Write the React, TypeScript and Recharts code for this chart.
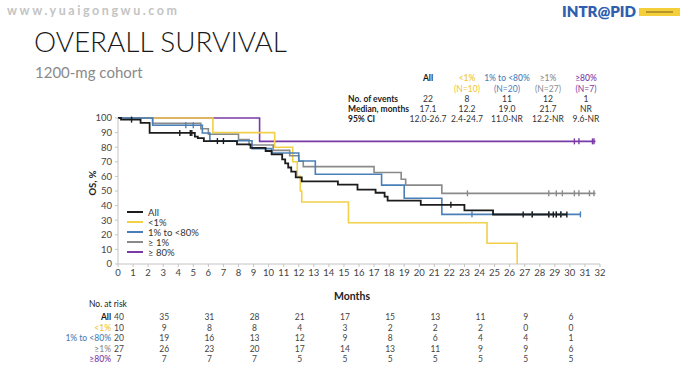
import React from 'react';
import { LineChart, Line, XAxis, YAxis } from 'recharts';

// axis ticks
const monthTicks = [0, 1, 2, 3, 4, 5, 6, 7, 8, 9, 10, 11, 12, 13, 14, 15, 16, 17, 18, 19, 20, 21, 22, 23, 24, 25, 26, 27, 28, 29, 30, 31, 32];
const osTicks = [0, 10, 20, 30, 40, 50, 60, 70, 80, 90, 100];

// KM steps: [month, OS %]
const allSteps: [number, number][] = [
  [0, 100], [0.2, 98.9], [1.5, 96.6], [2.1, 89.8], [5.1, 87.3], [5.3, 86.2], [5.7, 84.2],
  [7.9, 81.9], [8.8, 79.6], [9.8, 77.4], [10.2, 75.1], [10.9, 71.7], [11.1, 68.9], [11.3, 66.1],
  [11.5, 63.3], [11.8, 59.3], [12.2, 56.6], [14.6, 54.3], [15.9, 51], [17.1, 48.8], [17.7, 46.2],
  [17.9, 43.4], [20.1, 40.5], [23, 36.7], [24.9, 33.9],
];
const allCensored = [0.9, 4.1, 4.8, 4.9, 6.6, 7.0, 22.1, 26.9, 27.5, 28.6, 28.9, 29.1, 29.4, 29.8];
const allEnd = 29.8;

const lt1Steps: [number, number][] = [
  [0, 100], [6.3, 90], [10.4, 80], [11.6, 70], [11.9, 60], [12.1, 50], [12.2, 42.5],
  [15.3, 28.3], [24.5, 14.2], [26.5, 0],
];
const lt1Censored: number[] = [];
const lt1End = 26.5;

const midSteps: [number, number][] = [
  [0, 100], [2.3, 95], [5.6, 89.7], [6.1, 84.4], [8.9, 79], [10.2, 76], [12.0, 70.5],
  [13.1, 61.5], [17.5, 54], [19.0, 45], [21.5, 34],
];
const midCensored = [4.5, 5.0, 23.5, 27.5, 28.6, 29.1, 29.4, 30.7];
const midEnd = 30.7;

const ge1Steps: [number, number][] = [
  [0, 100], [2.3, 96.3], [5.5, 92.6], [6.0, 88.9], [8.0, 85.2], [8.7, 81.5], [10.3, 77.8],
  [11.4, 74.1], [12.0, 70.4], [12.3, 66.7], [17.0, 62.7], [18.8, 58], [19.1, 54], [21.5, 48.4],
];
const ge1Censored = [23.2, 28.6, 29.1, 29.5, 30.3, 30.6, 31.3, 31.6];
const ge1End = 31.7;

const ge80Steps: [number, number][] = [[0, 100], [9.4, 84]];
const ge80Censored = [30.3, 30.6, 31.5, 31.6];
const ge80End = 31.7;

// summary table
const groupLabels = ['All', '<1%', '1% to <80%', '≥1%', '≥80%'];
const groupNs = ['', '(N=10)', '(N=20)', '(N=27)', '(N=7)'];
const eventCounts = ['22', '8', '11', '12', '1'];
const medianMonths = ['17.1', '12.2', '19.0', '21.7', 'NR'];
const ciLabels = ['12.0-26.7', '2.4-24.7', '11.0-NR', '12.2-NR', '9.6-NR'];

// number at risk
const riskMonths = [0, 3, 6, 9, 12, 15, 18, 21, 24, 27, 30];
const riskAll = [40, 35, 31, 28, 21, 17, 15, 13, 11, 9, 6];
const riskLt1 = [10, 9, 8, 8, 4, 3, 2, 2, 2, 0, 0];
const riskMid = [20, 19, 16, 13, 12, 9, 8, 6, 4, 4, 1];
const riskGe1 = [27, 26, 23, 20, 17, 14, 13, 11, 9, 9, 6];
const riskGe80 = [7, 7, 7, 7, 5, 5, 5, 5, 5, 5, 5];
const riskLabels = ['All', '<1%', '1% to <80%', '≥1%', '≥80%'];

const C_ALL = '#1c1c1c';
const C_LT1 = '#f2d048';
const C_LT1_TXT = '#efc52a';
const C_MID = '#4a80b8';
const C_GE1 = '#8a8a8a';
const C_GE80 = '#7a3aa6';
const groupColors = [C_ALL, C_LT1_TXT, C_MID, C_GE1, C_GE80];

const FONT = 'Lato, "Open Sans", sans-serif';

// chart frame
const W = 692;
const H = 370;
const PLOT_L = 118;
const PLOT_R = 600;
const PLOT_T = 118;
const PLOT_B = 264;
const xPx = (m: number) => PLOT_L + (m / 32) * (PLOT_R - PLOT_L);

type Pt = { x: number; y: number; c?: boolean };

function levelAt(steps: [number, number][], m: number) {
  let v = steps[0][1];
  for (const [x, y] of steps) if (x <= m) v = y;
  return v;
}

function buildSeries(steps: [number, number][], censored: number[], end: number): Pt[] {
  const pts: Pt[] = steps.map(([x, y]) => ({ x, y }));
  censored.forEach((m) => pts.push({ x: m, y: levelAt(steps, m), c: true }));
  const lastX = steps[steps.length - 1][0];
  if (end > lastX && !censored.includes(end)) pts.push({ x: end, y: levelAt(steps, end) });
  return pts.sort((a, b) => a.x - b.x);
}

const series = [
  { key: 'ge80', data: buildSeries(ge80Steps, ge80Censored, ge80End), color: C_GE80, w: 1.6 },
  { key: 'lt1', data: buildSeries(lt1Steps, lt1Censored, lt1End), color: C_LT1, w: 1.6 },
  { key: 'ge1', data: buildSeries(ge1Steps, ge1Censored, ge1End), color: C_GE1, w: 1.6 },
  { key: 'mid', data: buildSeries(midSteps, midCensored, midEnd), color: C_MID, w: 1.6 },
  { key: 'all', data: buildSeries(allSteps, allCensored, allEnd), color: C_ALL, w: 1.8 },
];

const CensorDot = (color: string) => (props: any) => {
  const { cx, cy, payload, index } = props;
  if (!payload || !payload.c) return <g key={index} />;
  return <line key={index} x1={cx} x2={cx} y1={cy - 3} y2={cy + 3} stroke={color} strokeWidth={1.4} />;
};

const legendItems = [
  { label: 'All', color: C_ALL },
  { label: '<1%', color: C_LT1 },
  { label: '1% to <80%', color: C_MID },
  { label: '≥ 1%', color: C_GE1 },
  { label: '≥ 80%', color: C_GE80 },
];

const tableCols = [428, 467, 507, 548, 586];
const riskRowsY = [317, 327.5, 338, 348.5, 359];
const riskRows = [riskAll, riskLt1, riskMid, riskGe1, riskGe80];

const Overlay = () => (
  <svg width={W} height={H} style={{ position: 'absolute', left: 0, top: 0, pointerEvents: 'none' }} fontFamily={FONT}>
    <text x={7} y={15} fontSize={12.5} fontWeight={700} fill="#c4c4c4" textLength={170} lengthAdjust="spacing">www.yuaigongwu.com</text>
    <text x={562} y={17} fontSize={14.5} fontWeight={800} fill="#2f5fae" textLength={74} lengthAdjust="spacingAndGlyphs">INTR@PID</text>
    <rect x={639} y={8} width={41} height={8} fill="#f4cf3a" />
    <rect x={646} y={11} width={27} height={2} fill="#8a7020" opacity={0.6} />

    <text x={34} y={52} fontSize={28} fontWeight={300} fill="#1a1a1a" textLength={253} lengthAdjust="spacingAndGlyphs">OVERALL SURVIVAL</text>
    <text x={35} y={78} fontSize={15} fill="#8a8a8a">1200-mg cohort</text>

    {groupLabels.map((g, i) => (
      <text key={g} x={tableCols[i]} y={78} fontSize={8.5} fontWeight={i === 0 ? 700 : 500} fill={groupColors[i]} textAnchor="middle" dominantBaseline="central">{g}</text>
    ))}
    {groupNs.map((n, i) => (
      <text key={'n' + i} x={tableCols[i]} y={89} fontSize={8.5} fill={groupColors[i]} textAnchor="middle" dominantBaseline="central">{n}</text>
    ))}
    <text x={348} y={99} fontSize={8.5} fontWeight={700} fill="#222" dominantBaseline="central">No. of events</text>
    <text x={348} y={109} fontSize={8.5} fontWeight={700} fill="#222" dominantBaseline="central">Median, months</text>
    <text x={348} y={119} fontSize={8.5} fontWeight={700} fill="#222" dominantBaseline="central">95% CI</text>
    {[eventCounts, medianMonths, ciLabels].map((row, r) =>
      row.map((v, i) => (
        <text key={r + '-' + i} x={tableCols[i]} y={99 + r * 10} fontSize={8.5} fill="#333" textAnchor="middle" dominantBaseline="central">{v}</text>
      ))
    )}

    <text x={92} y={183} fontSize={9.5} fontWeight={700} fill="#222" textAnchor="middle" dominantBaseline="central" transform="rotate(-90 92 183)">OS, %</text>

    {legendItems.map((it, i) => (
      <g key={it.label}>
        <line x1={127} x2={143} y1={212 + i * 10} y2={212 + i * 10} stroke={it.color} strokeWidth={2} />
        <text x={148} y={212 + i * 10} fontSize={9.5} fill="#333" dominantBaseline="central">{it.label}</text>
      </g>
    ))}

    <text x={352} y={296} fontSize={10.5} fontWeight={700} fill="#222" textAnchor="middle" dominantBaseline="central">Months</text>
    <text x={89} y={304} fontSize={8.5} fill="#222" dominantBaseline="central">No. at risk</text>
    {riskLabels.map((l, r) => (
      <text key={l} x={111} y={riskRowsY[r]} fontSize={8.5} fontWeight={r === 0 ? 700 : 500} fill={groupColors[r]} textAnchor="end" dominantBaseline="central">{l}</text>
    ))}
    {riskRows.map((row, r) =>
      row.map((v, i) => (
        <text key={r + '_' + i} x={xPx(riskMonths[i]) + 1} y={riskRowsY[r]} fontSize={8.5} fill="#444" textAnchor="middle" dominantBaseline="central">{v}</text>
      ))
    )}
  </svg>
);

export default function App() {
  return (
    <div style={{ position: 'absolute', left: 0, top: 0, width: W, height: H, background: '#fff', overflow: 'hidden' }}>
      <LineChart width={W} height={H} margin={{ top: PLOT_T, left: PLOT_L - 30, right: W - PLOT_R, bottom: H - PLOT_B - 20 }}>
        <XAxis
          dataKey="x"
          type="number"
          domain={[0, 32]}
          ticks={monthTicks}
          interval={0}
          height={20}
          tickSize={3}
          tickMargin={2}
          stroke="#c4c4c4"
          tick={{ fill: '#444', fontSize: 9.5, fontFamily: FONT }}
          allowDuplicatedCategory={false}
        />
        <YAxis
          dataKey="y"
          type="number"
          domain={[0, 100]}
          ticks={osTicks}
          interval={0}
          width={30}
          tickSize={3}
          tickMargin={3}
          stroke="#c4c4c4"
          tick={{ fill: '#444', fontSize: 9.5, fontFamily: FONT }}
        />
        {series.map((s) => (
          <Line
            key={s.key}
            data={s.data}
            dataKey="y"
            type="stepAfter"
            stroke={s.color}
            strokeWidth={s.w}
            dot={CensorDot(s.color)}
            activeDot={false}
            isAnimationActive={false}
          />
        ))}
      </LineChart>
      <Overlay />
    </div>
  );
}
